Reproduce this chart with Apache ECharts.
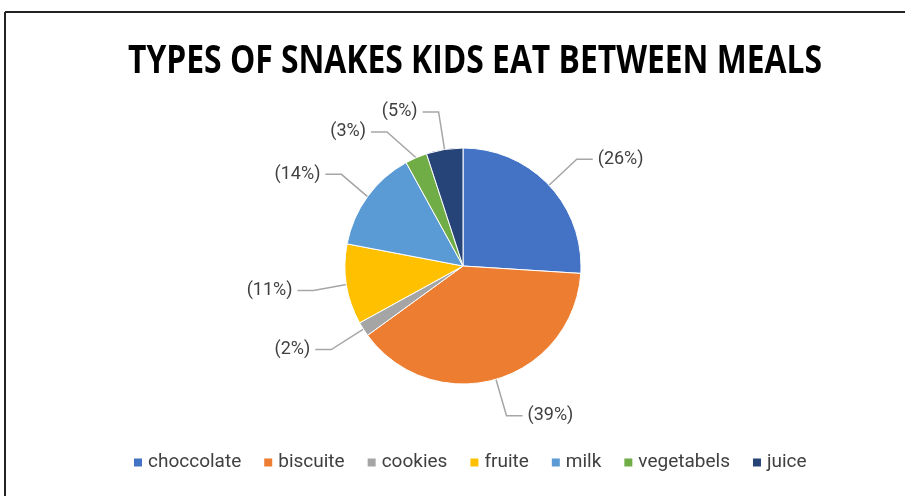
<!DOCTYPE html>
<html>
<head>
<meta charset="utf-8">
<script src="https://cdn.jsdelivr.net/npm/echarts@6/dist/echarts.min.js"></script>
<style>
  html, body { margin: 0; padding: 0; background: #fff; }
  #chart { width: 905px; height: 496px; }
</style>
</head>
<body>
<div id="chart"></div>
<script>
// data
var titleText = 'TYPES OF SNAKES KIDS EAT BETWEEN MEALS';
var categories = ['choccolate', 'biscuite', 'cookies', 'fruite', 'milk', 'vegetabels', 'juice'];
var values = [26, 39, 2, 11, 14, 3, 5];
var colors = ['#4472C4', '#ED7D31', '#A5A5A5', '#FFC000', '#5B9BD5', '#70AD47', '#264478'];

var pieData = [];
for (var i = 0; i < categories.length; i++) {
  pieData.push({ name: categories[i], value: values[i] });
}

// title font is condensed in the original: squeeze a bold sans to the same width
var titleFont = 'bold 40px "Open Sans"';
var ctx = document.createElement('canvas').getContext('2d');
ctx.font = titleFont;
var titleW = ctx.measureText(titleText).width;
var titleScale = 694 / titleW;

var option = {
  backgroundColor: '#fff',
  color: colors,
  legend: {
    bottom: 19,
    left: 127,
    itemWidth: 10,
    itemHeight: 10,
    itemGap: 21,
    icon: 'rect',
    textStyle: { fontFamily: 'Roboto', fontSize: 19, color: '#404040' },
    data: categories
  },
  graphic: [
    { type: 'line', shape: { x1: 5, y1: 12, x2: 905, y2: 12 }, style: { stroke: '#222', lineWidth: 2 } },
    { type: 'line', shape: { x1: 5, y1: 12, x2: 5, y2: 496 }, style: { stroke: '#222', lineWidth: 2 } },
    {
      type: 'text',
      x: 475,
      y: 62,
      scaleX: titleScale,
      style: {
        text: titleText,
        font: titleFont,
        fill: '#000',
        align: 'center',
        verticalAlign: 'middle'
      }
    }
  ],
  series: [{
    type: 'pie',
    center: [463, 266],
    radius: 118,
    startAngle: 90,
    clockwise: true,
    data: pieData,
    itemStyle: { borderColor: '#fff', borderWidth: 1 },
    label: {
      formatter: '({d}%)',
      fontFamily: 'Roboto',
      fontSize: 18,
      color: '#404040'
    },
    labelLine: {
      length: 38,
      length2: 16,
      lineStyle: { color: '#A6A6A6', width: 1.5 }
    }
  }]
};

echarts.init(document.getElementById('chart')).setOption(option);
</script>
</body>
</html>
